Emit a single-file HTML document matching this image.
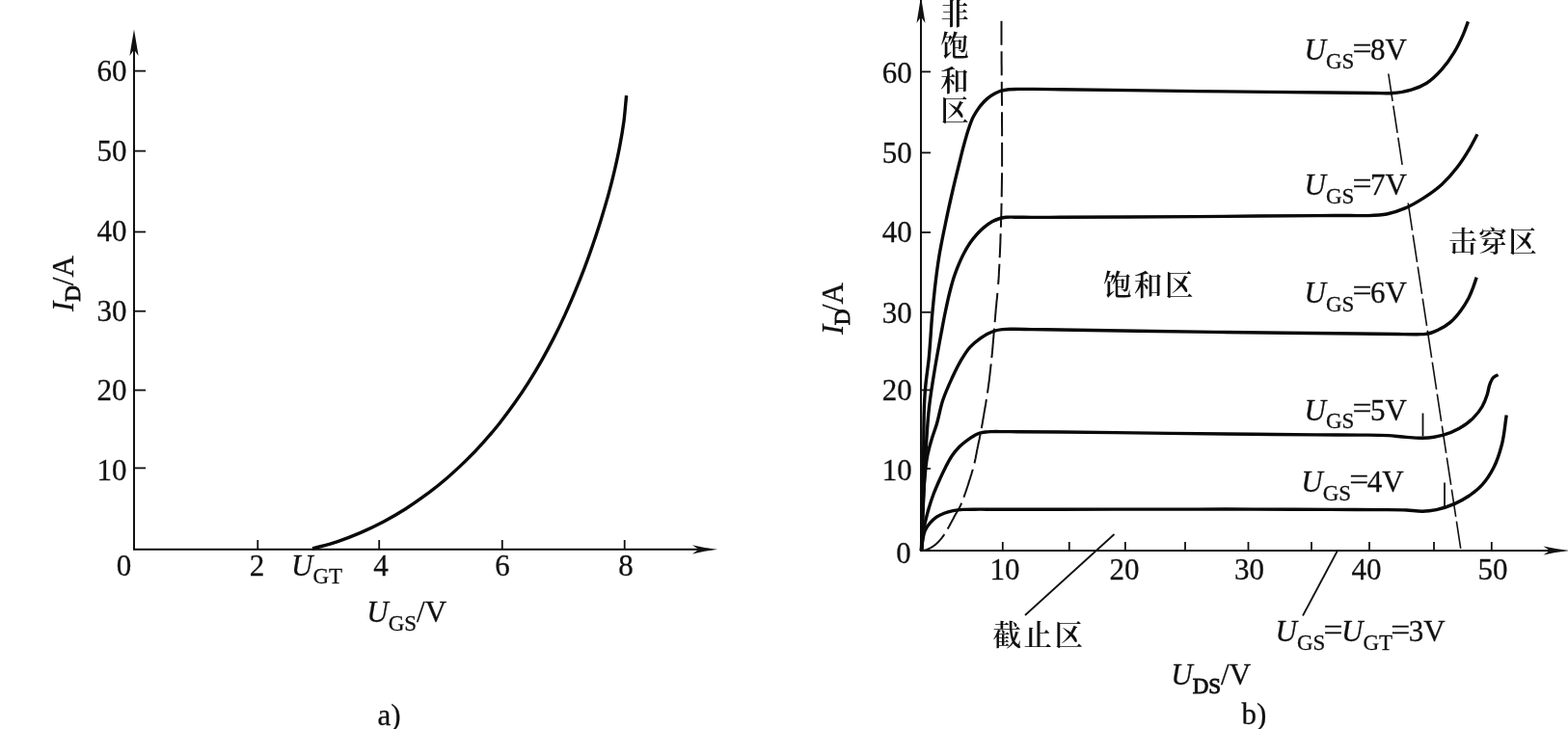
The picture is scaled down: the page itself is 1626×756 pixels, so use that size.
<!DOCTYPE html>
<html lang="zh"><head><meta charset="utf-8"><title>MOSFET characteristic curves</title>
<style>
html,body{margin:0;padding:0;background:#fff;}
body{width:1626px;height:756px;overflow:hidden;}
svg{display:block;}
text{font-family:"Liberation Serif","Noto Serif CJK SC",serif;font-size:31px;fill:#111;stroke:#111;stroke-width:0.28px;}
.cj{font-family:"Liberation Serif","Noto Serif CJK SC",serif;font-size:29.5px;fill:#111;font-weight:600;stroke:none;}
.ax{fill:none;stroke:#111;stroke-width:2;}
.tk{fill:none;stroke:#111;stroke-width:1.8;}
.cv{fill:none;stroke:#0a0a0a;stroke-width:3.4;stroke-linecap:butt;stroke-linejoin:round;}
.ld{fill:none;stroke:#111;stroke-width:1.8;}
.ds{fill:none;stroke:#111;stroke-width:1.6;}
.dp{fill:none;stroke:#111;stroke-width:2;}
.fill{fill:#111;stroke:none;}
</style></head><body>
<svg width="1626" height="756" viewBox="0 0 1626 756">
<rect width="1626" height="756" fill="#fff"/>
<path d="M139 40 V569.8 H735" class="ax"/>
<path d="M139.0 30.5 Q136.4 45.6 134.4 58.0 L139.0 51.5 L143.6 58.0 Q141.6 45.6 139.0 30.5 Z" class="fill"/>
<path d="M744.0 569.8 Q729.7 568.2 718.0 565.2 L724.5 569.8 L718.0 574.4 Q729.7 571.4 744.0 569.8 Z" class="fill"/>
<path d="M139 73.6 H151" class="tk"/>
<text x="131.5" y="83.6" text-anchor="end">60</text>
<path d="M139 156.6 H151" class="tk"/>
<text x="131.5" y="167.2" text-anchor="end">50</text>
<path d="M139 240.5 H151" class="tk"/>
<text x="131.5" y="249.9" text-anchor="end">40</text>
<path d="M139 322.7 H151" class="tk"/>
<text x="131.5" y="332.8" text-anchor="end">30</text>
<path d="M139 404.6 H151" class="tk"/>
<text x="131.5" y="415.2" text-anchor="end">20</text>
<path d="M139 485.4 H151" class="tk"/>
<text x="131.5" y="498.4" text-anchor="end">10</text>
<path d="M267.3 569.8 V560" class="tk"/>
<path d="M393.2 569.8 V560" class="tk"/>
<path d="M520.8 569.8 V560" class="tk"/>
<path d="M647.7 569.8 V560" class="tk"/>
<text x="266.5" y="597" text-anchor="middle">2</text>
<text x="395.0" y="597" text-anchor="middle">4</text>
<text x="521.0" y="597" text-anchor="middle">6</text>
<text x="649.0" y="597" text-anchor="middle">8</text>
<text x="128.5" y="597" text-anchor="middle">0</text>
<text x="302.0" y="597.0" ><tspan font-style="italic">U</tspan><tspan font-size="23.0" dy="7.6">GT</tspan></text>
<text x="380.3" y="644.8" ><tspan font-style="italic">U</tspan><tspan font-size="23.0" dy="8.7">GS</tspan><tspan dy="-8.7">/V</tspan></text>
<g transform="translate(76 323) rotate(-90)"><text x="0.0" y="0.0" ><tspan font-style="italic">I</tspan><tspan font-size="23.0" stroke-width="0.9" dy="7.3">D</tspan><tspan dy="-7.3">/A</tspan></text></g>
<text x="403.5" y="752" text-anchor="middle">a)</text>
<path d="M324.0 569.0 C332.5 566.6 341.0 564.6 349.4 561.8 C357.7 559.1 365.9 555.9 374.0 552.4 C382.1 548.9 390.0 545.1 397.8 541.0 C405.5 536.8 413.1 532.4 420.6 527.7 C428.0 523.0 435.2 517.9 442.3 512.7 C449.4 507.5 456.3 501.9 463.0 496.2 C469.7 490.5 476.1 484.5 482.4 478.4 C488.7 472.2 494.8 465.9 500.7 459.3 C506.6 452.8 512.3 446.1 517.8 439.2 C523.2 432.4 528.5 425.3 533.6 418.1 C538.7 411.0 543.6 403.7 548.3 396.2 C553.0 388.8 557.5 381.2 561.8 373.6 C566.1 366.0 570.3 358.2 574.3 350.4 C578.3 342.5 582.1 334.6 585.8 326.6 C589.4 318.6 593.0 310.5 596.3 302.4 C599.7 294.3 603.0 286.1 606.1 277.9 C609.2 269.6 612.2 261.4 615.0 253.0 C617.9 244.7 620.6 236.3 623.2 227.9 C625.8 219.5 628.3 211.1 630.7 202.6 C633.0 194.2 635.2 185.7 637.2 177.1 C639.2 168.6 641.1 160.0 642.7 151.4 C644.4 142.7 645.8 134.1 647.0 125.4 C648.1 116.6 648.7 107.8 649.6 99.0" class="cv"/>
<path d="M955 0 V571 H1612" class="ax"/>
<path d="M955.0 -4.0 Q952.6 11.4 950.5 24.0 L955.0 17.5 L959.5 24.0 Q957.4 11.4 955.0 -4.0 Z" class="fill"/>
<path d="M1630.0 571.0 Q1613.8 569.7 1600.5 566.6 L1607.0 571.0 L1600.5 575.4 Q1613.8 572.3 1630.0 571.0 Z" class="fill"/>
<path d="M955 74.4 H965" class="tk"/>
<text x="945.8" y="85.8" text-anchor="end">60</text>
<path d="M955 158.4 H965" class="tk"/>
<text x="945.8" y="169.4" text-anchor="end">50</text>
<path d="M955 241 H965" class="tk"/>
<text x="945.8" y="251.4" text-anchor="end">40</text>
<path d="M955 323.8 H965" class="tk"/>
<text x="945.8" y="335.2" text-anchor="end">30</text>
<path d="M955 404.5 H965" class="tk"/>
<text x="945.8" y="415.1" text-anchor="end">20</text>
<path d="M955 486 H965" class="tk"/>
<text x="945.8" y="498.0" text-anchor="end">10</text>
<text x="937" y="583.6" text-anchor="middle">0</text>
<path d="M1039.8 571 V562" class="tk"/>
<path d="M1108.8 571 V562" class="tk"/>
<path d="M1166.9 571 V562" class="tk"/>
<path d="M1229 571 V562" class="tk"/>
<path d="M1294.5 571 V562" class="tk"/>
<path d="M1360 571 V562" class="tk"/>
<path d="M1420 571 V562" class="tk"/>
<path d="M1487 571 V562" class="tk"/>
<path d="M1546.8 571 V562" class="tk"/>
<text x="1042.0" y="601" text-anchor="middle">10</text>
<text x="1166.0" y="601" text-anchor="middle">20</text>
<text x="1295.5" y="601" text-anchor="middle">30</text>
<text x="1417.0" y="601" text-anchor="middle">40</text>
<text x="1548.0" y="601" text-anchor="middle">50</text>
<g transform="translate(874 347) rotate(-90)"><text x="0.0" y="0.0" ><tspan font-style="italic">I</tspan><tspan font-size="23.0" stroke-width="0.9" dy="7.3" dx="-0.5">D</tspan><tspan dy="-7.3" dx="-3.5">/A</tspan></text></g>
<text x="1214.3" y="710.2" ><tspan font-style="italic">U</tspan><tspan font-size="23.0" stroke-width="0.9" dy="8.7">DS</tspan><tspan dy="-8.7">/V</tspan></text>
<text x="1300.5" y="750.6" text-anchor="middle">b)</text>
<text x="1352.5" y="62.2" ><tspan font-style="italic">U</tspan><tspan font-size="23.0" dy="8.7">GS</tspan><tspan textLength="20.0" lengthAdjust="spacingAndGlyphs" dy="-10.1" dx="-1.8">=</tspan><tspan dy="1.4" dx="-1.5">8V</tspan></text>
<text x="1352.5" y="202.0" ><tspan font-style="italic">U</tspan><tspan font-size="23.0" dy="8.7">GS</tspan><tspan textLength="20.0" lengthAdjust="spacingAndGlyphs" dy="-10.1" dx="-1.8">=</tspan><tspan dy="1.4" dx="-1.5">7V</tspan></text>
<text x="1352.5" y="313.8" ><tspan font-style="italic">U</tspan><tspan font-size="23.0" dy="8.7">GS</tspan><tspan textLength="20.0" lengthAdjust="spacingAndGlyphs" dy="-10.1" dx="-1.8">=</tspan><tspan dy="1.4" dx="-1.5">6V</tspan></text>
<text x="1352.5" y="435.5" ><tspan font-style="italic">U</tspan><tspan font-size="23.0" dy="8.7">GS</tspan><tspan textLength="20.0" lengthAdjust="spacingAndGlyphs" dy="-10.1" dx="-1.8">=</tspan><tspan dy="1.4" dx="-1.5">5V</tspan></text>
<text x="1349.3" y="509.8" ><tspan font-style="italic">U</tspan><tspan font-size="23.0" dy="8.7">GS</tspan><tspan textLength="20.0" lengthAdjust="spacingAndGlyphs" dy="-10.1" dx="-1.8">=</tspan><tspan dy="1.4" dx="-1.5">4V</tspan></text>
<text x="1322.5" y="665.2" ><tspan font-style="italic">U</tspan><tspan font-size="23.0" dy="8.7">GS</tspan><tspan textLength="20.0" lengthAdjust="spacingAndGlyphs" dy="-10.1" dx="-1.8">=</tspan><tspan font-style="italic" dy="1.4" dx="-1.5">U</tspan><tspan font-size="23.0" dy="8.7">GT</tspan><tspan textLength="20.0" lengthAdjust="spacingAndGlyphs" dy="-10.1" dx="-1.8">=</tspan><tspan dy="1.4" dx="-1.5">3V</tspan></text>
<text class="cj" x="1144" y="306" letter-spacing="2.5">饱和区</text>
<text class="cj" x="1502.2" y="260.5" letter-spacing="1.5">击穿区</text>
<text class="cj" x="1029.5" y="668.5" letter-spacing="2.5">截止区</text>
<text class="cj" x="990" y="24.8" text-anchor="middle">非</text>
<text class="cj" x="990" y="57.6" text-anchor="middle">饱</text>
<text class="cj" x="990" y="93.8" text-anchor="middle">和</text>
<text class="cj" x="990" y="125.0" text-anchor="middle">区</text>
<path d="M1155.5 554 L1063 638" class="ld"/>
<path d="M1387 571 L1351 638.5" class="ld"/>
<path d="M1475.5 428.5 V452.5" class="ld"/>
<path d="M1498 500.5 V527" class="ld"/>
<path d="M1439.8 76.5 L1454.1 170.8" class="ds" stroke-dasharray="28.6 4.8"/>
<path d="M1460.2 210.5 L1515.0 571" class="ds" stroke-dasharray="28.6 4.8"/>
<path d="M955.5 571.0 L955.9 571.0 L956.2 570.9 L956.6 570.9 L957.0 570.8 L957.4 570.8 L957.7 570.8 L958.1 570.7 L958.5 570.7 L958.8 570.6 L959.2 570.6 L959.5 570.5 L959.9 570.4 L960.2 570.3 L960.6 570.2 L960.9 570.1 L961.3 569.9 L961.6 569.8 L962.0 569.7 L962.3 569.5 L962.7 569.4 L963.0 569.2 L963.3 569.0 L963.7 568.9 L964.0 568.7 L964.4 568.5 L964.8 568.3 L965.2 568.1 L965.6 567.9 L965.9 567.6 L966.3 567.4 L966.7 567.2 L967.1 567.0 L967.4 566.7 L967.8 566.5 L968.1 566.2 L968.5 566.0 L968.8 565.7 L969.2 565.5 L969.5 565.2 L969.9 564.9 L970.2 564.6 L970.5 564.3 L970.9 564.0 L971.2 563.7 L971.5 563.4 L971.8 563.1 L972.2 562.8 L972.5 562.5 L972.8 562.1 L973.2 561.8 L973.5 561.4 L973.9 561.1 L974.2 560.7 L974.5 560.3 L974.9 559.9 L975.2 559.6 L975.5 559.2 L975.8 558.8 L976.2 558.4 L976.5 558.0 L976.8 557.6 L977.1 557.1 L977.5 556.7 L977.8 556.3 L978.1 555.9 L978.4 555.4 L978.7 555.0 L979.0 554.6 L979.3 554.1 L979.6 553.7 L979.9 553.2 L980.2 552.8 L980.5 552.3 L980.8 551.8 L981.1 551.3 L981.4 550.8 L981.7 550.3 L982.0 549.8 L982.3 549.3 L982.6 548.8 L982.9 548.3 L983.1 547.8 L983.4 547.3 L983.7 546.8 L984.2 545.9 L984.7 544.9 L985.2 544.0 L985.7 543.1 L986.2 542.1 L986.7 541.2 L987.2 540.3 L987.7 539.3 L988.2 538.4 L988.7 537.5 L989.2 536.5 L989.7 535.6 L990.3 534.6 L990.8 533.6 L991.4 532.6 L992.0 531.6 L992.5 530.7 L993.1 529.7 L993.7 528.7 L994.2 527.7 L994.8 526.7 L995.3 525.7 L995.8 524.7 L996.3 523.7 L996.7 522.7 L997.2 521.7 L997.6 520.7 L998.0 519.7 L998.4 518.7 L998.8 517.7 L999.1 516.7 L999.5 515.7 L999.8 514.7 L1000.2 513.7 L1000.5 512.7 L1000.9 511.7 L1001.3 510.5 L1001.7 509.3 L1002.1 508.1 L1002.5 506.9 L1002.9 505.7 L1003.3 504.5 L1003.7 503.3 L1004.1 502.1 L1004.5 500.9 L1004.8 499.6 L1005.2 498.4 L1005.6 497.2 L1006.1 495.7 L1006.5 494.2 L1007.0 492.7 L1007.5 491.2 L1007.9 489.7 L1008.4 488.1 L1008.8 486.6 L1009.3 485.1 L1009.7 483.6 L1010.1 482.0 L1010.4 480.5 L1010.8 479.0 L1011.1 477.8 L1011.3 476.6 L1011.6 475.5 L1011.8 474.3 L1012.0 473.1 L1012.2 471.9 L1012.5 470.7 L1012.7 469.5 L1012.9 468.3 L1013.1 467.2 L1013.4 466.0 L1013.6 464.8 L1013.9 463.5 L1014.2 462.2 L1014.4 460.8 L1014.7 459.5 L1015.0 458.2 L1015.3 456.8 L1015.6 455.5 L1015.8 454.2 L1016.1 452.9 L1016.4 451.5 L1016.6 450.2 L1016.9 448.9 L1017.2 447.4 L1017.5 445.8 L1017.8 444.3 L1018.0 442.8 L1018.3 441.2 L1018.6 439.7 L1018.9 438.1 L1019.1 436.6 L1019.4 435.0 L1019.7 433.5 L1019.9 431.9 L1020.2 430.4 L1020.5 428.4 L1020.9 426.3 L1021.2 424.3 L1021.6 422.3 L1021.9 420.3 L1022.3 418.2 L1022.6 416.2 L1022.9 414.2 L1023.3 412.1 L1023.6 410.1 L1023.9 408.0 L1024.2 406.0 L1024.5 403.8 L1024.8 401.6 L1025.1 399.4 L1025.4 397.2 L1025.7 395.0 L1026.0 392.8 L1026.2 390.5 L1026.5 388.3 L1026.7 386.1 L1027.0 383.9 L1027.2 381.7 L1027.5 379.5 L1027.8 376.5 L1028.1 373.6 L1028.4 370.6 L1028.7 367.6 L1029.0 364.6 L1029.3 361.7 L1029.5 358.7 L1029.8 355.7 L1030.0 352.7 L1030.3 349.8 L1030.5 346.8 L1030.8 343.8 L1031.0 341.8 L1031.1 339.8 L1031.3 337.9 L1031.5 335.9 L1031.6 333.9 L1031.8 331.9 L1032.0 329.9 L1032.1 327.9 L1032.3 325.9 L1032.5 324.0 L1032.6 322.0 L1032.8 320.0 L1033.0 318.2 L1033.2 316.3 L1033.3 314.5 L1033.5 312.7 L1033.7 310.8 L1033.9 309.0 L1034.1 307.2 L1034.2 305.3 L1034.4 303.5" class="dp" stroke-dasharray="30.49 6.50"/>
<path d="M1038.5 21.8 L1038.5 25.0 L1038.5 28.2 L1038.5 31.3 L1038.5 34.5 L1038.5 37.7 L1038.5 40.9 L1038.5 44.1 L1038.5 47.3 L1038.5 50.5 L1038.6 53.6 L1038.6 56.8 L1038.6 60.0 L1038.6 65.0 L1038.7 70.0 L1038.7 75.0 L1038.7 80.0 L1038.8 85.0 L1038.8 90.0 L1038.9 95.0 L1038.9 100.0 L1039.0 105.0 L1039.0 110.0 L1039.0 115.0 L1039.0 120.0 L1039.0 127.1 L1039.1 134.2 L1039.1 141.2 L1039.1 148.3 L1039.1 155.4 L1039.1 162.5 L1039.1 169.6 L1039.1 176.7 L1039.0 183.8 L1038.9 190.8 L1038.8 197.9 L1038.7 205.0 L1038.6 209.6 L1038.5 214.2 L1038.4 218.7 L1038.3 223.3 L1038.1 227.9 L1038.0 232.5 L1037.9 237.1 L1037.7 241.7 L1037.5 246.3 L1037.4 250.8 L1037.2 255.4 L1037.0 260.0 L1036.9 263.2 L1036.7 266.3 L1036.6 269.5 L1036.4 272.7 L1036.3 275.9 L1036.1 279.0 L1035.9 282.2 L1035.8 285.4 L1035.6 288.5 L1035.4 291.7 L1035.1 294.8" class="dp" stroke-dasharray="25 6.5"/>
<path d="M955.5 571.0 C956.2 540.7 956.7 510.3 957.5 480.0 C958.2 453.3 957.2 426.5 959.8 400.0 C960.7 390.6 962.2 381.3 963.2 372.0 C964.8 356.4 965.4 340.6 966.8 325.0 C967.6 316.7 968.4 308.3 969.3 300.0 C970.6 288.6 972.0 277.3 973.8 266.0 C975.6 254.9 977.9 244.0 980.2 233.0 C982.5 221.6 985.0 210.3 987.6 199.0 C989.8 189.3 992.2 179.7 994.6 170.0 C996.3 163.1 997.9 156.2 999.8 149.4 C1001.3 144.1 1002.7 138.7 1004.5 133.5 C1005.9 129.5 1007.2 125.4 1009.1 121.6 C1011.0 117.9 1013.2 114.3 1015.7 111.0 C1018.1 107.9 1020.7 104.9 1023.7 102.4 C1026.1 100.4 1028.8 98.6 1031.6 97.1 C1033.7 96.0 1035.9 94.9 1038.2 94.2 C1040.7 93.4 1043.4 93.1 1046.1 92.8 C1049.4 92.4 1052.7 92.5 1056.0 92.4 C1061.3 92.3 1066.7 92.4 1072.0 92.4 C1081.3 92.4 1090.7 92.6 1100.0 92.7 C1147.2 93.2 1194.5 94.0 1241.7 94.6 C1287.8 95.1 1333.9 95.5 1380.0 96.0 C1395.0 96.2 1410.0 96.4 1425.0 96.5 C1431.5 96.5 1438.0 97.0 1444.4 96.5 C1447.6 96.3 1450.8 95.9 1454.0 95.4 C1457.2 94.8 1460.4 94.1 1463.5 93.2 C1469.0 91.5 1474.6 89.2 1479.4 86.2 C1485.3 82.5 1490.5 77.2 1495.2 71.9 C1500.0 66.6 1504.2 60.5 1507.9 54.4 C1511.6 48.4 1514.7 41.9 1517.5 35.4 C1519.3 31.1 1520.8 26.7 1522.4 22.4" class="cv"/>
<path d="M955.5 571.0 C956.2 554.0 956.8 537.0 957.5 520.0 C958.2 504.2 958.8 488.4 959.8 472.6 C960.9 455.0 961.7 437.2 963.8 419.7 C965.2 408.1 967.1 396.5 969.0 385.0 C971.1 372.1 973.5 359.2 975.9 346.3 C977.4 338.4 978.8 330.4 980.5 322.5 C981.9 315.8 983.3 309.1 985.0 302.5 C986.1 298.3 987.1 294.1 988.4 290.0 C989.5 286.4 990.8 282.9 992.1 279.4 C994.4 273.5 996.8 267.7 999.8 262.2 C1002.5 257.1 1005.5 252.1 1009.1 247.6 C1012.3 243.6 1015.8 239.7 1019.7 236.4 C1022.6 234.0 1025.6 231.6 1028.9 229.8 C1031.4 228.4 1034.1 227.3 1036.9 226.5 C1039.0 225.9 1041.3 225.5 1043.5 225.3 C1046.3 225.0 1049.2 225.2 1052.0 225.2 C1058.0 225.2 1064.0 225.4 1070.0 225.4 C1080.0 225.5 1090.0 225.3 1100.0 225.3 C1147.2 225.1 1194.5 224.9 1241.7 224.6 C1283.7 224.3 1325.8 223.8 1367.8 223.6 C1378.5 223.6 1389.3 223.5 1400.0 223.5 C1406.3 223.5 1412.7 223.8 1419.0 223.6 C1425.4 223.4 1431.9 223.2 1438.1 222.0 C1444.6 220.7 1451.0 218.5 1457.1 215.9 C1463.8 213.1 1470.1 209.3 1476.2 205.4 C1482.8 201.1 1489.4 196.5 1495.2 191.2 C1501.0 185.9 1506.3 179.8 1511.1 173.5 C1515.8 167.5 1519.9 161.0 1523.8 154.4 C1526.7 149.5 1529.3 144.3 1532.0 139.2" class="cv"/>
<path d="M955.5 571.0 C955.9 559.0 956.3 547.0 956.8 535.0 C957.3 523.3 957.6 511.6 958.6 500.0 C959.4 490.5 960.0 481.0 961.9 471.7 C963.1 466.1 964.6 460.5 966.3 455.0 C967.8 450.0 969.8 445.0 971.3 440.0 C973.8 431.7 975.0 423.0 977.8 414.8 C980.4 407.2 983.6 399.9 987.0 392.6 C989.9 386.4 992.8 380.1 996.3 374.2 C999.3 369.2 1002.3 363.9 1006.3 359.7 C1009.1 356.7 1012.3 354.1 1015.6 351.7 C1018.1 349.8 1020.7 348.0 1023.5 346.5 C1026.0 345.2 1028.7 343.9 1031.4 343.1 C1034.0 342.3 1036.7 341.9 1039.4 341.6 C1042.9 341.2 1046.4 341.3 1049.9 341.3 C1056.6 341.2 1063.3 341.5 1070.0 341.6 C1080.0 341.7 1090.0 341.9 1100.0 342.0 C1153.7 342.7 1207.3 343.7 1261.0 344.4 C1310.5 345.0 1359.9 345.4 1409.4 346.0 C1422.9 346.2 1436.5 346.4 1450.0 346.5 C1456.7 346.6 1463.3 346.8 1470.0 346.7 C1472.8 346.6 1475.6 346.8 1478.4 346.4 C1480.5 346.1 1482.5 345.6 1484.5 345.0 C1486.8 344.3 1489.0 343.3 1491.1 342.3 C1495.6 340.2 1500.0 337.6 1503.8 334.4 C1508.0 330.9 1511.6 326.4 1514.9 321.9 C1517.9 317.9 1520.6 313.6 1522.9 309.2 C1524.7 305.6 1526.2 301.9 1527.6 298.1 C1528.9 294.6 1530.0 291.1 1531.2 287.6" class="cv"/>
<path d="M955.5 571.0 C956.5 562.7 956.9 554.2 958.5 546.0 C959.7 539.6 961.4 533.3 963.2 527.0 C964.6 522.1 966.2 517.3 968.0 512.5 C969.8 507.8 971.8 503.3 973.8 498.7 C975.8 494.2 977.9 489.6 980.2 485.2 C982.4 480.9 984.5 476.5 987.3 472.5 C989.6 469.1 992.3 465.9 995.2 463.0 C997.9 460.4 1000.9 458.1 1004.0 455.9 C1005.8 454.6 1007.6 453.4 1009.5 452.3 C1011.0 451.4 1012.6 450.5 1014.2 449.8 C1016.7 448.8 1019.5 448.4 1022.2 448.0 C1024.4 447.7 1026.7 447.7 1029.0 447.6 C1032.7 447.5 1036.3 447.6 1040.0 447.6 C1045.0 447.6 1050.0 447.7 1055.0 447.7 C1070.0 447.8 1085.0 447.9 1100.0 448.0 C1137.7 448.3 1175.3 449.0 1213.0 449.4 C1242.0 449.7 1271.0 450.0 1300.0 450.3 C1321.0 450.5 1342.0 450.8 1363.0 450.9 C1378.7 451.0 1394.3 450.9 1410.0 451.1 C1419.8 451.2 1429.7 451.0 1439.5 451.6 C1445.9 452.0 1452.2 453.0 1458.6 453.4 C1464.1 453.8 1469.7 454.4 1475.2 454.2 C1479.1 454.1 1483.1 453.8 1487.0 453.2 C1490.3 452.7 1493.5 452.1 1496.7 451.2 C1502.4 449.6 1508.1 447.2 1513.3 444.3 C1518.4 441.4 1523.4 437.8 1527.6 433.6 C1531.2 430.0 1534.6 425.9 1537.1 421.5 C1539.3 417.6 1540.9 413.3 1542.3 409.0 C1543.5 405.2 1543.7 401.1 1545.3 397.5 C1546.2 395.4 1547.0 393.0 1548.6 391.5 C1549.9 390.2 1551.9 389.6 1553.5 388.6" class="cv"/>
<path d="M955.5 571.0 C955.9 567.3 956.1 563.6 956.8 560.0 C957.4 556.7 957.9 553.2 959.3 550.1 C960.6 547.3 962.5 544.6 964.6 542.2 C966.5 540.0 968.8 537.9 971.2 536.2 C973.6 534.5 976.4 533.3 979.1 532.2 C982.1 531.0 985.3 530.2 988.4 529.6 C991.8 528.9 995.4 528.6 998.9 528.4 C1002.6 528.2 1006.3 528.2 1010.0 528.2 C1016.7 528.1 1023.3 528.2 1030.0 528.2 C1053.3 528.2 1076.7 528.2 1100.0 528.2 C1137.7 528.2 1175.3 528.1 1213.0 528.1 C1242.0 528.1 1271.0 528.0 1300.0 528.1 C1326.7 528.2 1353.3 528.3 1380.0 528.4 C1396.7 528.5 1413.3 528.4 1430.0 528.6 C1439.5 528.7 1449.1 528.5 1458.6 529.0 C1464.1 529.3 1469.7 530.3 1475.2 530.2 C1480.0 530.1 1484.8 529.5 1489.5 528.6 C1496.0 527.3 1502.5 525.1 1508.6 522.4 C1513.6 520.2 1518.4 517.5 1522.9 514.5 C1528.0 511.1 1533.0 507.1 1537.1 502.6 C1541.9 497.4 1545.8 491.1 1549.0 484.8 C1552.8 477.4 1555.3 469.1 1557.4 461.0 C1560.0 451.1 1560.6 440.7 1562.2 430.6" class="cv"/>
</svg>
</body></html>
